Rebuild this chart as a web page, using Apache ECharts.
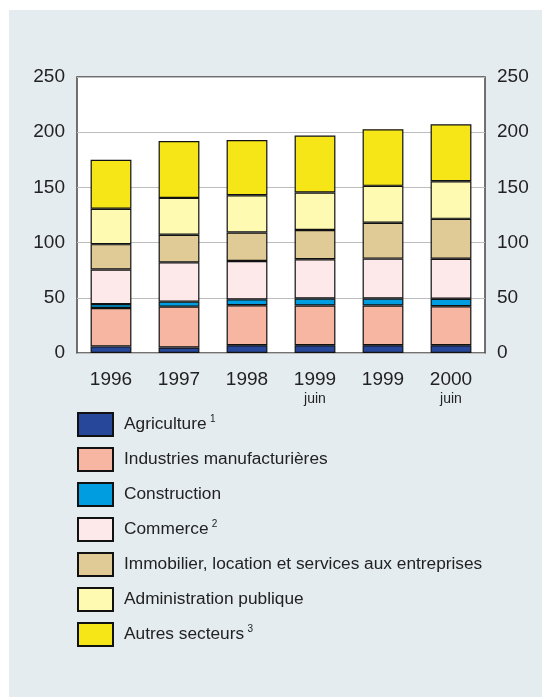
<!DOCTYPE html>
<html>
<head>
<meta charset="utf-8">
<script src="https://cdn.jsdelivr.net/npm/echarts@6/dist/echarts.min.js"></script>
<style>
  html, body { margin: 0; padding: 0; background: #fff; }
  #main { position: absolute; left: 9px; top: 10px; width: 533px; height: 687px; background: #e4ecf0; }
</style>
</head>
<body>
<div id="main"></div>
<script>
// categories (year + optional second line)
const years = ['1996', '1997', '1998', '1999', '1999', '2000'];
const subLabels = ['', '', '', 'juin', '', 'juin'];

// values per sector (stacked, bottom to top)
const agriculture = [6, 5, 7, 7, 7, 7];
const industries = [34.7, 37, 36.2, 36, 36, 35.3];
const construction = [3.6, 4.5, 5.4, 6.3, 6.3, 6.9];
const commerce = [31.3, 35.6, 34.7, 35.6, 36.2, 36.2];
const immobilier = [23, 25, 25.9, 26.5, 32.5, 36.1];
const administration = [32, 33.4, 33.7, 34, 33.4, 34.1];
const autres = [44.5, 51.5, 50, 51.5, 51.3, 51.5];

const sectorNames = [
  'Agriculture',
  'Industries manufacturières',
  'Construction',
  'Commerce',
  'Immobilier, location et services aux entreprises',
  'Administration publique',
  'Autres secteurs'
];
const footnotes = ['1', '', '', '2', '', '', '3'];
const sectorValues = [agriculture, industries, construction, commerce, immobilier, administration, autres];
const colors = ['#27489a', '#f6b6a2', '#009ee0', '#fde9e9', '#e0cb96', '#fffab2', '#f7e617'];

const chart = echarts.init(document.getElementById('main'));

const series = sectorNames.map((name, i) => ({
  name: name,
  type: 'bar',
  stack: 'total',
  barWidth: '60%',
  data: sectorValues[i],
  itemStyle: { color: colors[i], borderColor: '#111', borderWidth: 1.2 },
  emphasis: { disabled: true }
}));

const valueAxis = (pos) => ({
  type: 'value',
  position: pos,
  min: 0,
  max: 250,
  interval: 50,
  axisLine: { show: false },
  axisTick: { show: false },
  splitLine: { show: pos === 'left', lineStyle: { color: '#bdbdbd', width: 1 } },
  axisLabel: { color: '#222', fontSize: 19, fontFamily: 'Liberation Sans', margin: 12 }
});

chart.setOption({
  animation: false,
  color: colors,
  grid: {
    left: 68, right: 57, top: 67, bottom: 344,
    show: true, backgroundColor: '#fff', borderColor: '#444', borderWidth: 1.5,
    containLabel: false
  },
  xAxis: {
    type: 'category',
    data: years,
    axisLine: { show: false },
    axisTick: { show: false },
    axisLabel: {
      margin: 16,
      interval: 0,
      formatter: (v, idx) => subLabels[idx] ? '{y|' + v + '}\n{s|' + subLabels[idx] + '}' : '{y|' + v + '}',
      rich: {
        y: { fontSize: 19, color: '#222', fontFamily: 'Liberation Sans', lineHeight: 22 },
        s: { fontSize: 14, color: '#222', fontFamily: 'Liberation Sans', lineHeight: 16 }
      }
    }
  },
  yAxis: [valueAxis('left'), valueAxis('right')],
  legend: {
    orient: 'vertical',
    left: 68,
    top: 402,
    padding: 0,
    itemWidth: 35,
    itemHeight: 23,
    itemGap: 10,
    selectedMode: false,
    icon: 'rect',
    formatter: (name) => {
      const i = sectorNames.indexOf(name);
      return footnotes[i] ? '{n|' + name + '} {f|' + footnotes[i] + '}' : '{n|' + name + '}';
    },
    textStyle: {
      padding: [0, 0, 0, 6],
      rich: {
        n: { fontSize: 17.3, color: '#222', fontFamily: 'Liberation Sans', lineHeight: 20 },
        f: { fontSize: 10, color: '#222', fontFamily: 'Liberation Sans', verticalAlign: 'top', lineHeight: 12, padding: [0, 0, 6, 0] }
      }
    }
  },
  series: series
});
</script>
</body>
</html>
